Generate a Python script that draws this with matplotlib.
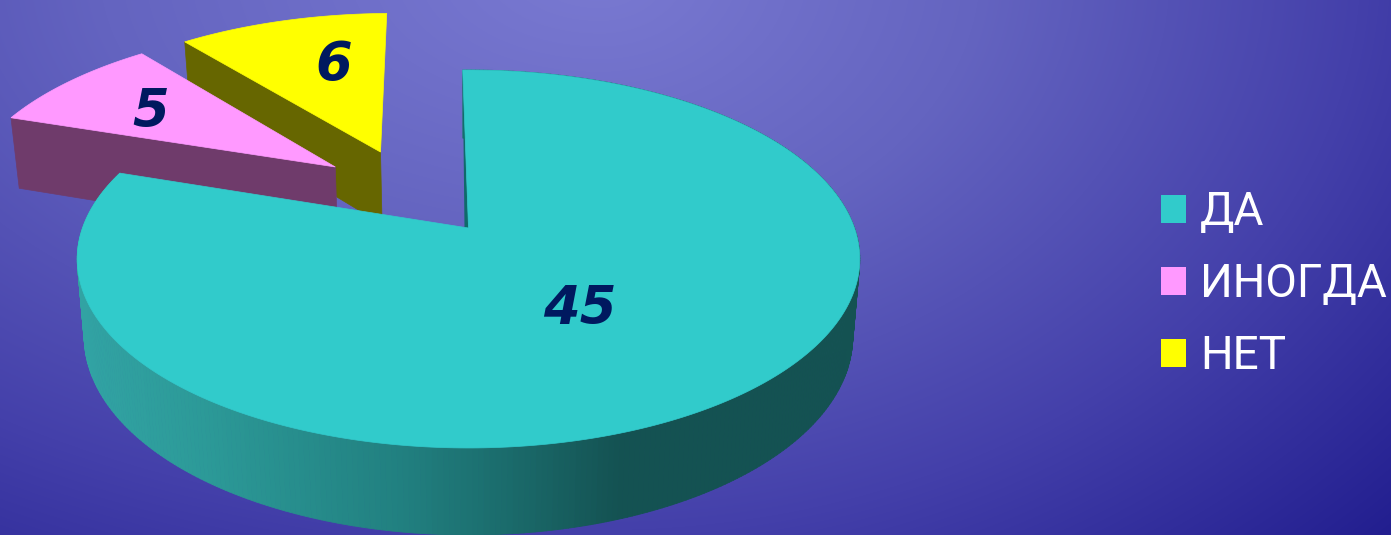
import numpy as np
import matplotlib
matplotlib.use("Agg")
import matplotlib.pyplot as plt
from matplotlib.collections import PolyCollection
from matplotlib.colors import to_rgb
from matplotlib.patches import Polygon, Patch

categories = ["ДА", "ИНОГДА", "НЕТ"]
values = [45, 5, 6]
top_colors = ["#31CBCB", "#FF99FF", "#FFFF00"]
wall_colors = [None, "#6F3B6B", "#666600"]

W, H = 1391, 535
fig = plt.figure(figsize=(W / 100, H / 100), dpi=100)
ax = fig.add_axes([0, 0, 1, 1])
ax.set_xlim(0, W)
ax.set_ylim(H, 0)
ax.axis("off")

# background gradient
gx, gy = np.meshgrid(np.arange(W) + .5, np.arange(H) + .5)
ax_scale = np.where(gx < 600, 1000.0, 760.0)
d = np.sqrt(((gx - 600) / ax_scale) ** 2 + ((gy + 30) / 560) ** 2)
stops = [0, .5, 1.0, 1.5]
cols = np.array([to_rgb(c) for c in ["#7A7AD2", "#6464C0", "#4440AA", "#1E1A8C"]])
img = np.dstack([np.interp(d, stops, cols[:, i]) for i in range(3)])
ax.imshow(img, extent=(0, W, H, 0), aspect="auto", zorder=0, interpolation="bilinear")


# projection of the pie plane to the picture
def project(u, v):
    den = 1 + 0.164 * v
    return 468.5 + 386 * u / den, (228 - 146.5 * v) / den


def lower(x, y):
    return 468.5 + (x - 468.5) * 0.982, y + 76 + 0.05 * (y - 228)


def rim(a0, a1, off=(0, 0), n=200):
    t = np.radians(np.linspace(a0, a1, n))
    return project(off[0] + np.sin(t), off[1] + np.cos(t))


start = -1.0
spans = np.array(values) / sum(values) * 360
edges = start + np.concatenate([[0], np.cumsum(spans)])
offsets = [(0, 0), (-0.365, 0.351), (-0.2445, 0.443)]

# back to front: НЕТ, ИНОГДА, ДА
for i in [2, 1]:
    off = offsets[i]
    rx, ry = rim(edges[i], edges[i + 1], off)
    ax_, ay_ = project(*off)
    # wall along the slice's straight edge facing the viewer
    ex, ey = rx[0], ry[0]
    bx0, by0 = lower(ex, ey)
    bx1, by1 = lower(ax_, ay_)
    ax.add_patch(Polygon([(ex, ey), (ax_, ay_), (bx1, by1), (bx0, by0)],
                         fc=wall_colors[i], ec=wall_colors[i], lw=.5, zorder=2 + (2 - i) * 2))
    ax.add_patch(Polygon(np.column_stack([np.r_[ax_, rx], np.r_[ay_, ry]]),
                         fc=top_colors[i], ec=top_colors[i], lw=.5, zorder=3 + (2 - i) * 2))

# ДА: curved wall with horizontal shading
rx, ry = rim(edges[0], edges[1], n=400)
bx, by = lower(rx, ry)
quads = [[(rx[k], ry[k]), (rx[k + 1], ry[k + 1]), (bx[k + 1], by[k + 1]), (bx[k], by[k])]
         for k in range(len(rx) - 1)]
xstops = [85, 200, 400, 500, 620, 860]
shade = np.array([to_rgb(c) for c in ["#31A3A3", "#2C9A98", "#218080", "#1B6D6D", "#145252", "#145252"]])
mids = (rx[:-1] + rx[1:]) / 2
fc = np.column_stack([np.interp(mids, xstops, shade[:, i]) for i in range(3)])
ax.add_collection(PolyCollection(quads, facecolors=fc, edgecolors=fc, linewidths=.6, zorder=7))
ax_, ay_ = project(0, 0)
ax.add_patch(Polygon([(rx[0], ry[0]), (ax_, ay_), (ax_ - 4, ay_)], fc="#0F6A6A", ec="none", zorder=7))
ax.add_patch(Polygon(np.column_stack([np.r_[ax_, rx], np.r_[ay_, ry]]),
                     fc=top_colors[0], ec=top_colors[0], lw=.5, zorder=8))

# value labels
label_xy = [(580, 309), (151, 112), (334, 65)]
for val, (x, y) in zip(values, label_xy):
    ax.text(x, y, str(val), color="#00195F", fontsize=38, fontweight="bold", fontstyle="italic",
            family="DejaVu Sans", ha="center", va="center", zorder=9)

handles = [Patch(fc=c, ec="none", label=l) for c, l in zip(top_colors, categories)]
leg = ax.legend(handles=handles, loc="center left", bbox_to_anchor=(1161, 284), bbox_transform=ax.transData,
                frameon=False, borderaxespad=0, borderpad=0, handlelength=.55, handleheight=.55,
                handletextpad=.3, labelspacing=.61, prop={"family": "Roboto", "size": 33}, labelcolor="white")
leg.set_zorder(10)

fig.savefig("out.png", dpi=100)
